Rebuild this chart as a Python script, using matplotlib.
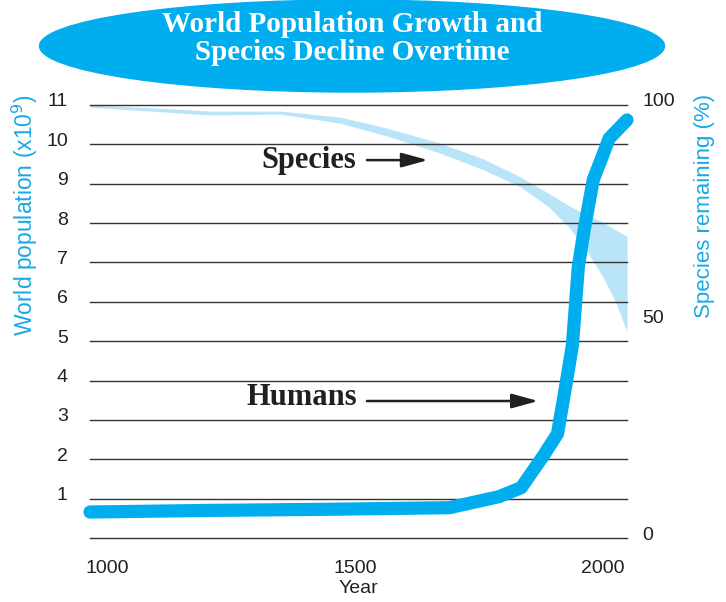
import numpy as np
from matplotlib import pyplot as plt
from matplotlib import patches
from matplotlib import transforms

# Humans: world population in billions
hum_years = [966, 1200, 1450, 1690, 1790, 1835, 1880, 1908, 1925, 1938, 1950, 1962, 1980, 2000, 2012, 2048]
hum_pop = [0.66, 0.70, 0.73, 0.77, 1.05, 1.28, 2.1, 2.65, 3.9, 4.9, 6.9, 7.85, 9.1, 9.75, 10.15, 10.62]

# Species remaining (%) band, upper and lower edge
sp_years = [966, 1100, 1208, 1349, 1470, 1560, 1671, 1760, 1833, 1890, 1933, 1970, 2000, 2025, 2048]
sp_top = [100, 99.3, 98.6, 98.6, 97.2, 94.8, 91.2, 87.5, 83.4, 79.6, 76.6, 74.5, 72.9, 71.2, 69.7]
sp_bottom = [99.5, 98.5, 97.7, 97.9, 95.8, 93.0, 88.9, 85.0, 81.1, 76.5, 71.5, 65.8, 60.2, 54.5, 47.6]

left_ticks = list(range(1, 12))
right_ticks = [0, 50, 100]
year_ticks = [1000, 1500, 2000]

cyan = '#00aeef'
band_col = '#bae5f9'
label_col = '#1aa9e3'
text_col = '#231f20'

fig = plt.figure(figsize=(7.26, 6.02), dpi=100)
ax = fig.add_axes([90/726, 1-538/602, 537/726, 433/602])
ax2 = ax.twinx()
ax.set_zorder(ax2.get_zorder() + 1)
ax.patch.set_visible(False)

# species band on the right axis (behind grid)
ax2.fill_between(sp_years, sp_bottom, sp_top, color=band_col, lw=0)
ax2.set_ylim(0, 100)
ax2.set_yticks(right_ticks)

# grid lines
for v in range(0, 12):
    ax.axhline(v, color='#333333', lw=1.0, zorder=1, clip_on=False)

ax.plot(hum_years, hum_pop, color=cyan, lw=9.5, solid_capstyle='round',
        solid_joinstyle='round', zorder=3, clip_on=False)
ax.set_xlim(966, 2048)
ax.set_ylim(0, 11)
ax.set_yticks(left_ticks)
ax.set_xticks(year_ticks)

for a in (ax, ax2):
    for s in a.spines.values():
        s.set_visible(False)
    a.tick_params(length=0, labelsize=14, labelcolor=text_col)
ax.tick_params(axis='y', pad=16)
ax.tick_params(axis='x', pad=16)
ax2.tick_params(axis='y', pad=11)
for lab in ax.get_xticklabels() + ax.get_yticklabels() + ax2.get_yticklabels():
    lab.set_fontfamily('Liberation Sans')

up = transforms.ScaledTranslation(0, 5/100, fig.dpi_scale_trans)
for lab in ax.get_yticklabels() + ax2.get_yticklabels():
    lab.set_transform(lab.get_transform() + up)

ax.set_xlabel('Year', fontsize=14, color=text_col, family='Liberation Sans', labelpad=2)
ax.set_ylabel('World population (x10$^{9}$)', fontsize=16.5, color=label_col, family='Liberation Sans')
ax.yaxis.set_label_coords(-0.093, 0.746)
ax2.set_ylabel('Species remaining (%)', fontsize=16, color=label_col, family='Liberation Sans')
ax2.yaxis.set_label_coords(1.124, 0.767)

arrow = dict(arrowstyle='-|>,head_length=0.8,head_width=0.22', lw=1.8,
             color=text_col, mutation_scale=20, shrinkA=0, shrinkB=0)
ax.text(1312, 9.6, 'Species', fontsize=22, weight='bold', family='Liberation Serif',
        color=text_col, ha='left', va='center')
ax.annotate('', xy=(1647, 9.6), xytext=(1524, 9.6), arrowprops=arrow)
ax.text(1282, 3.56, 'Humans', fontsize=22, weight='bold', family='Liberation Serif',
        color=text_col, ha='left', va='center')
ax.annotate('', xy=(1869, 3.48), xytext=(1524, 3.48), arrowprops=arrow)

# title ellipse
ell = patches.Ellipse((352/726, 1-46/602), 625/726, 92/602, transform=fig.transFigure,
                      color=cyan, zorder=0)
fig.patches.append(ell)
fig.text(352/726, 1-38.5/602, 'World Population Growth and\nSpecies Decline Overtime',
         ha='center', va='center', color='white', fontsize=21, weight='bold',
         family='Liberation Serif', linespacing=1.05)

fig.savefig('out.png', dpi=100)
